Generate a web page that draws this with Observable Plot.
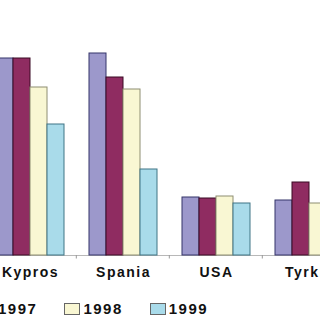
<!DOCTYPE html>
<html>
<head>
<meta charset="utf-8">
<script src="https://cdn.jsdelivr.net/npm/d3@7"></script>
<script src="https://cdn.jsdelivr.net/npm/@observablehq/plot@0.6"></script>
<style>
  html, body { margin: 0; padding: 0; background: #fff; }
  #wrap { position: relative; width: 320px; height: 320px; overflow: hidden; background: #fff; }
  #chart { position: absolute; left: -40px; top: 0; width: 398px; height: 290px; }
  #chart svg { max-width: none !important; width: 398px; height: 290px; }
  #chart svg text { font-family: "Liberation Sans", Arial, sans-serif; font-size: 14px; font-weight: bold; letter-spacing: 1.5px; fill: #111; }
  #legend { position: absolute; left: -21px; top: 301px; display: flex; align-items: center;
            font-family: "Liberation Sans", Arial, sans-serif; font-size: 15px; font-weight: bold; letter-spacing: 1.5px; color: #111; white-space: nowrap; }
  .item { display: inline-flex; align-items: center; margin-right: 27px; }
  .sw { width: 14px; height: 10px; border: 1px solid #666; box-sizing: content-box; }
  .lb { margin-left: 3px; line-height: 15px; }
</style>
</head>
<body>
<div id="wrap">
  <div id="chart"></div>
  <div id="legend"></div>
</div>
<script>
const countries = ["Kypros", "Spania", "USA", "Tyrkia"];
const seriesYears = ["1996", "1997", "1998", "1999"];
const values1996 = [19.7, 20.2, 5.8, 5.5];
const values1997 = [19.7, 17.8, 5.7, 7.3];
const values1998 = [16.8, 16.6, 5.9, 5.2];
const values1999 = [13.1, 8.6, 5.2, 4.6];
const fills = ["#9c98cb", "#8f2c61", "#f9f7d3", "#a9dbea"];
const strokes = ["#34346a", "#3a0a24", "#8e8e72", "#3f7585"];
const legendYears = ["1997", "1998", "1999"];
</script>
<script>
const seriesVals = [values1996, values1997, values1998, values1999];
const data = [];
countries.forEach((c, i) => {
  seriesYears.forEach((y, j) => data.push({country: c, year: y, value: seriesVals[j][i]}));
});

const chart = Plot.plot({
  width: 398,
  height: 290,
  marginLeft: 23,
  marginRight: 3,
  marginTop: 5,
  marginBottom: 35,
  style: {background: "transparent", overflow: "visible"},
  fx: {domain: countries, paddingInner: 0.25, paddingOuter: 0.125, label: null, tickSize: 0, tickPadding: 12, axis: "bottom"},
  x: {domain: seriesYears, padding: 0, axis: null},
  y: {domain: [0, 25], axis: null},
  color: {domain: seriesYears, range: fills},
  marks: [
    Plot.ruleY([0], {stroke: "#b8b8b8", strokeWidth: 1, insetLeft: -12, insetRight: -12}),
    Plot.ruleX(countries, {fx: d => d, x: () => "1999", y1: 0, y2: -0.35, dx: 20.3, stroke: "#999"}),
    Plot.barY(data, {fx: "country", x: "year", y: "value", fill: "year",
      stroke: d => strokes[seriesYears.indexOf(d.year)], strokeWidth: 1})
  ]
});
document.getElementById("chart").appendChild(chart);

// legend: the first swatch is cropped off at the left edge, as in the reference
const legend = d3.select("#legend");
legendYears.forEach(y => {
  const idx = seriesYears.indexOf(y);
  const it = legend.append("div").attr("class", "item");
  it.append("div").attr("class", "sw").style("background", fills[idx]);
  it.append("span").attr("class", "lb").text(y);
});
</script>
</body>
</html>
